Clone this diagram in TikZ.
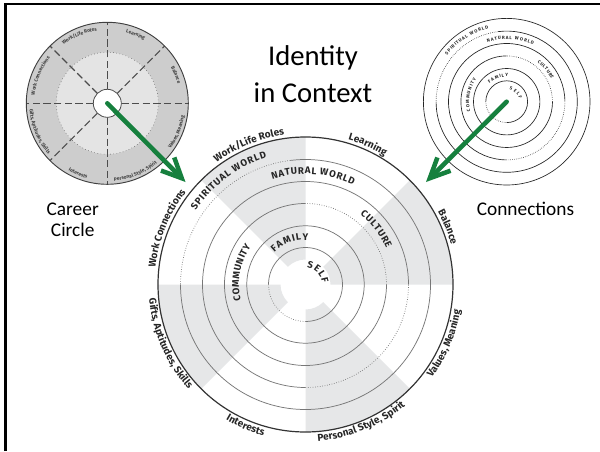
\documentclass[tikz,border=0pt]{standalone}
\usepackage{fontspec}
\usepackage{tkz-euclide}
\usetikzlibrary{decorations.text,arrows.meta}
\setmainfont{Carlito}
\newfontfamily\wheelfont{Fira Sans}
\definecolor{wedgegray}{HTML}{E6E7E8}
\definecolor{ringgray}{HTML}{777777}
\definecolor{inkgray}{HTML}{262626}
\definecolor{arrowgreen}{RGB}{22,128,62}
\definecolor{careerout}{HTML}{CDCDCD}
\definecolor{careerin}{HTML}{E4E4E4}
\newcommand\rimfont{\wheelfont\bfseries\fontsize{7.5}{9}\selectfont}
\newcommand\bandfont{\wheelfont\bfseries\fontsize{7.2}{9}\selectfont}
\newcommand\tinyrimfont{\wheelfont\bfseries\fontsize{3.7}{4}\selectfont}
\newcommand\tinybandfont{\wheelfont\bfseries\fontsize{3.4}{4}\selectfont}
\tikzset{
  wheelring/.style={draw=ringgray,line width=0.55pt},
  wheeldots/.style={wheelring,dash pattern=on 0.5pt off 1.3pt},
  conring/.style={draw=black!85,line width=0.5pt},
  condots/.style={conring,dash pattern=on 0.4pt off 1pt},
  rimtext/.style 2 args={decoration={text along path,text={|#1|#2},text align=center},decorate},
  bandtext/.style n args={3}{decoration={text effects along path,text={#3},
    text effects/.cd,text along path,fit text to path,characters={font=#1,text=#2}},decorate},
  greenarrow/.style={draw=arrowgreen,line width=3.4pt,-{Straight Barb[length=15pt,width=14pt]}},
  sidetext/.style={font=\fontsize{14.5}{17}\selectfont,anchor=base},
  titletext/.style={font=\fontsize{21.5}{26}\selectfont,anchor=base},
}
\begin{document}
\begin{tikzpicture}[x=0.75pt,y=0.75pt]
		\useasboundingbox (0,0) rectangle (600,451);
		\fill[white] (0,0) rectangle (600,451);
		\draw[line width=2pt] (5.3,0) -- (5.3,447) -- (600,447); % 边框
		\tkzDefPoint(305.5,166.5){O} % 大圆圆心
		\tkzDefPoint(107.3,347.7){A} % Career Circle 圆心
		\tkzDefPoint(506.7,349.3){B} % Connections 圆心
		\tkzDefPoint(185.5,269){P} % 箭头终点
		\tkzDefPoint(426,269){Q}
		% 大圆
		\foreach \a in {0,90,180,270}
			\fill[wedgegray] (O) ++(\a:25) -- ++(\a:122.5) arc[start angle=\a,end angle=\a+45,radius=147.5]
				-- ++(\a+45:-122.5) arc[start angle=\a+45,end angle=\a,radius=25] -- cycle;
		\draw[wheelring] (O) circle[radius=58.7];
		\foreach \r/\a/\b in {125/97/180,103/-90/0,81/0/90,37/180/270}{
			\draw[wheelring] (O) ++(\b:\r) arc[start angle=\b,end angle=\a+360,radius=\r];
			\draw[wheeldots] (O) ++(\a:\r) arc[start angle=\a,end angle=\b,radius=\r];
		}
		\draw[draw=black!80,line width=0.9pt] (O) circle[radius=147.5];
		\path[rimtext={\rimfont\color{inkgray}}{Work/Life Roles}] (O) ++(137:151) arc[start angle=137,end angle=87,radius=151];
		\path[rimtext={\rimfont\color{inkgray}}{Learning}] (O) ++(91:151) arc[start angle=91,end angle=41,radius=151];
		\path[rimtext={\rimfont\color{inkgray}}{Balance}] (O) ++(47:151) arc[start angle=47,end angle=-3,radius=151];
		\path[rimtext={\rimfont\color{inkgray}}{Work Connections}] (O) ++(183:151) arc[start angle=183,end angle=133,radius=151];
		\path[rimtext={\rimfont\color{inkgray}}{Values, Meaning}] (O) ++(-53:157) arc[start angle=-53,end angle=7,radius=157];
		\path[rimtext={\rimfont\color{inkgray}}{Personal Style, Spirit}] (O) ++(-98:157) arc[start angle=-98,end angle=-38,radius=157];
		\path[rimtext={\rimfont\color{inkgray}}{Interests}] (O) ++(-143:157) arc[start angle=-143,end angle=-83,radius=157];
		\path[rimtext={\rimfont\color{inkgray}}{Gifts, Aptitudes, Skills}] (O) ++(173:157) arc[start angle=173,end angle=234,radius=157];
		\path[bandtext={\bandfont}{inkgray}{SPIRITUAL WORLD}] (O) ++(146:132.5) arc[start angle=146,end angle=107,radius=132.5];
		\path[bandtext={\bandfont}{inkgray}{NATURAL WORLD}] (O) ++(107.5:110.5) arc[start angle=107.5,end angle=64.5,radius=110.5];
		\path[bandtext={\bandfont}{inkgray}{CULTURE}] (O) ++(52:88.5) arc[start angle=52,end angle=24,radius=88.5];
		\path[bandtext={\bandfont}{inkgray}{COMMUNITY}] (O) ++(194:66.5) arc[start angle=194,end angle=145,radius=66.5];
		\path[bandtext={\bandfont}{inkgray}{FAMILY}] (O) ++(134.5:44.5) arc[start angle=134.5,end angle=86.5,radius=44.5];
		\path[bandtext={\bandfont}{inkgray}{SELF}] (O) ++(85:16.5) arc[start angle=85,end angle=5,radius=16.5];
		% Career Circle
		\fill[careerout] (A) circle[radius=81];
		\fill[careerin] (A) circle[radius=51];
		\draw[black!70,dotted] (A) circle[radius=51];
		\foreach \a in {0,45,...,315}
			\draw[black!70,line width=0.8pt,dash pattern=on 5.5pt off 2.5pt] (A) ++(\a:14) -- ++(\a:67);
		\draw[black!70,fill=white,line width=0.6pt] (A) circle[radius=14];
		\draw[black!75,line width=0.7pt] (A) circle[radius=81];
		\path[rimtext={\tinyrimfont\color{black!75}}{Work/Life Roles}] (A) ++(140:73) arc[start angle=140,end angle=85,radius=73];
		\path[rimtext={\tinyrimfont\color{black!75}}{Learning}] (A) ++(95:73) arc[start angle=95,end angle=40,radius=73];
		\path[rimtext={\tinyrimfont\color{black!75}}{Balance}] (A) ++(50:73) arc[start angle=50,end angle=-5,radius=73];
		\path[rimtext={\tinyrimfont\color{black!75}}{Work Connections}] (A) ++(185:73) arc[start angle=185,end angle=130,radius=73];
		\path[rimtext={\tinyrimfont\color{black!75}}{Values, Meaning}] (A) ++(-50:78) arc[start angle=-50,end angle=5,radius=78];
		\path[rimtext={\tinyrimfont\color{black!75}}{Personal Style, Spirit}] (A) ++(-95:78) arc[start angle=-95,end angle=-40,radius=78];
		\path[rimtext={\tinyrimfont\color{black!75}}{Interests}] (A) ++(-140:78) arc[start angle=-140,end angle=-85,radius=78];
		\path[rimtext={\tinyrimfont\color{black!75}}{Gifts, Aptitudes, Skills}] (A) ++(175:78) arc[start angle=175,end angle=230,radius=78];
		% Connections
		\foreach \r in {83.3,33.2}
			\draw[conring] (B) circle[radius=\r];
		\foreach \r/\a/\b in {70.6/97/180,58.2/-90/0,45.8/0/90,20.9/180/270}{
			\draw[conring] (B) ++(\b:\r) arc[start angle=\b,end angle=\a+360,radius=\r];
			\draw[condots] (B) ++(\a:\r) arc[start angle=\a,end angle=\b,radius=\r];
		}
		\path[bandtext={\tinybandfont}{black!85}{SPIRITUAL WORLD}] (B) ++(142:75.5) arc[start angle=142,end angle=104,radius=75.5];
		\path[bandtext={\tinybandfont}{black!85}{NATURAL WORLD}] (B) ++(108:62.5) arc[start angle=108,end angle=65,radius=62.5];
		\path[bandtext={\tinybandfont}{black!85}{CULTURE}] (B) ++(52:50) arc[start angle=52,end angle=27,radius=50];
		\path[bandtext={\tinybandfont}{black!85}{COMMUNITY}] (B) ++(195:37.5) arc[start angle=195,end angle=144,radius=37.5];
		\path[bandtext={\tinybandfont}{black!85}{FAMILY}] (B) ++(133:25) arc[start angle=133,end angle=87,radius=25];
		\path[bandtext={\tinybandfont}{black!85}{SELF}] (B) ++(78:12.5) arc[start angle=78,end angle=12,radius=12.5];
		% 箭头
		\tkzDrawSegment[greenarrow](A,P)
		\tkzDrawSegment[greenarrow](B,Q)
		% 文字
		\node[titletext] (idA) at (313,386) {Identity};
		\node[titletext] (idB) at (313,348.3) {in Context};
		\node[sidetext] (careerA) at (72.7,236) {Career};
		\node[sidetext] (careerB) at (72.7,214.3) {Circle};
		\node[sidetext] (conn) at (525.5,236) {Connections};
	\end{tikzpicture}
\end{document}
